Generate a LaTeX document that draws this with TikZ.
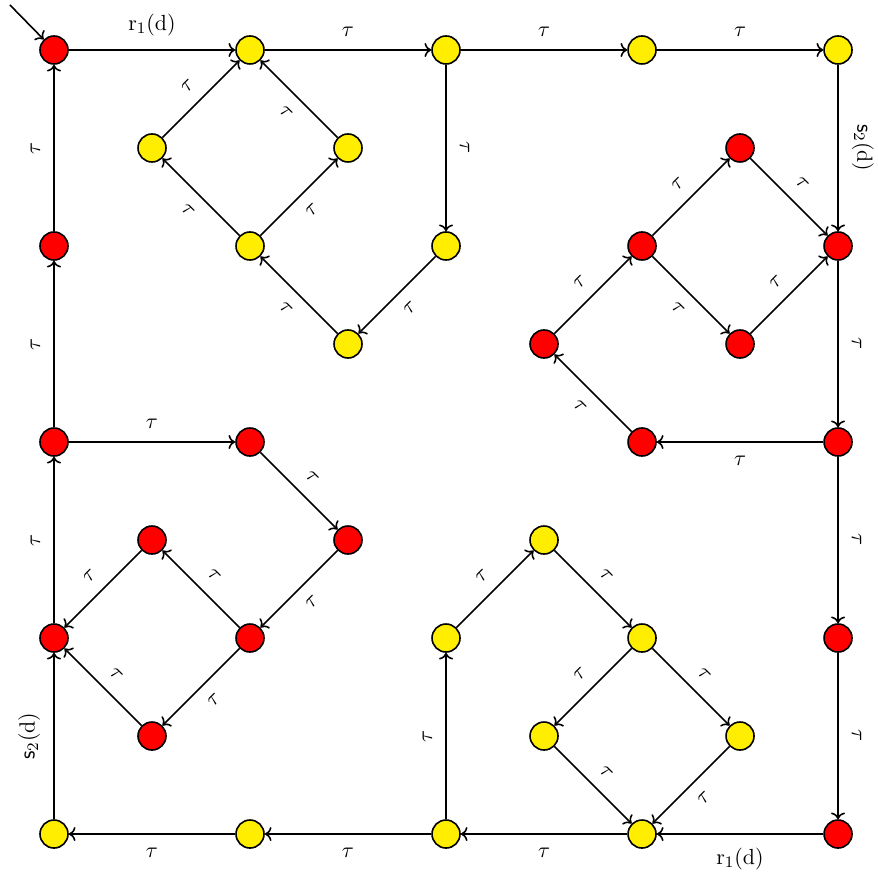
\documentclass[tikz,border=0pt]{standalone}
\usepackage{tikz}
\usetikzlibrary{arrows.meta, positioning}
\definecolor{stred}{HTML}{FF0000}
\definecolor{styel}{HTML}{FFEE00}
\tikzset{
  rst/.style={circle, draw=black, thick, fill=stred, minimum size=14pt, inner sep=0pt},
  yst/.style={circle, draw=black, thick, fill=styel, minimum size=14pt, inner sep=0pt},
  tr/.style={->, thick},
  lbl/.style={inner sep=6.5pt, font=\fontsize{11}{13}\selectfont},
  la/.style={lbl, sloped, above},
  lb/.style={lbl, sloped, below},
  lu/.style={lbl, rotate=90, anchor=south},
  ld/.style={lbl, rotate=-90, anchor=south},
}
\begin{document}
\begin{tikzpicture}[x=49pt, y=-49pt]
  \useasboundingbox (-0.551,-0.510) rectangle (8.398,8.510);
  % top row
  \node[rst] (c00) at (0,0) {};
  \node[yst] (c20) at (2,0) {};
  \node[yst] (c40) at (4,0) {};
  \node[yst] (c60) at (6,0) {};
  \node[yst] (c80) at (8,0) {};
  % top-left diamond
  \node[yst] (c11) at (1,1) {};
  \node[yst] (c31) at (3,1) {};
  \node[yst] (c22) at (2,2) {};
  \node[yst] (c42) at (4,2) {};
  \node[yst] (c33) at (3,3) {};
  % top-right diamond
  \node[rst] (c71) at (7,1) {};
  \node[rst] (c62) at (6,2) {};
  \node[rst] (c82) at (8,2) {};
  \node[rst] (c53) at (5,3) {};
  \node[rst] (c73) at (7,3) {};
  \node[rst] (c64) at (6,4) {};
  \node[rst] (c84) at (8,4) {};
  % left column
  \node[rst] (c02) at (0,2) {};
  \node[rst] (c04) at (0,4) {};
  \node[rst] (c24) at (2,4) {};
  \node[rst] (c15) at (1,5) {};
  \node[rst] (c35) at (3,5) {};
  \node[rst] (c06) at (0,6) {};
  \node[rst] (c26) at (2,6) {};
  \node[rst] (c17) at (1,7) {};
  % bottom-right diamond
  \node[yst] (c55) at (5,5) {};
  \node[yst] (c46) at (4,6) {};
  \node[yst] (c66) at (6,6) {};
  \node[rst] (c86) at (8,6) {};
  \node[yst] (c57) at (5,7) {};
  \node[yst] (c77) at (7,7) {};
  % bottom row
  \node[yst] (c08) at (0,8) {};
  \node[yst] (c28) at (2,8) {};
  \node[yst] (c48) at (4,8) {};
  \node[yst] (c68) at (6,8) {};
  \node[rst] (c88) at (8,8) {};

  \coordinate (init) at (-0.45,-0.46);
  \draw[tr] (init) -- (c00);

  % outer cycle
  \draw[tr] (c00) -- node[la] {$\mathrm{r}_1(\mathrm{d})$} (c20);
  \draw[tr] (c20) -- node[la] {$\tau$} (c40);
  \draw[tr] (c40) -- node[la] {$\tau$} (c60);
  \draw[tr] (c60) -- node[la] {$\tau$} (c80);
  \draw[tr] (c80) -- node[ld] {$\mathsf{s}_2(\mathrm{d})$} (c82);
  \draw[tr] (c82) -- node[ld] {$\tau$} (c84);
  \draw[tr] (c84) -- node[ld] {$\tau$} (c86);
  \draw[tr] (c86) -- node[ld] {$\tau$} (c88);
  \draw[tr] (c88) -- node[lb] {$\mathrm{r}_1(\mathrm{d})$} (c68);
  \draw[tr] (c68) -- node[lb] {$\tau$} (c48);
  \draw[tr] (c48) -- node[lb] {$\tau$} (c28);
  \draw[tr] (c28) -- node[lb] {$\tau$} (c08);
  \draw[tr] (c08) -- node[lu] {$\mathsf{s}_2(\mathrm{d})$} (c06);
  \draw[tr] (c06) -- node[lu] {$\tau$} (c04);
  \draw[tr] (c04) -- node[lu] {$\tau$} (c02);
  \draw[tr] (c02) -- node[lu] {$\tau$} (c00);

  % top-left part
  \draw[tr] (c40) -- node[ld] {$\tau$} (c42);
  \draw[tr] (c42) -- node[lb] {$\tau$} (c33);
  \draw[tr] (c33) -- node[lb] {$\tau$} (c22);
  \draw[tr] (c22) -- node[lb] {$\tau$} (c11);
  \draw[tr] (c11) -- node[la] {$\tau$} (c20);
  \draw[tr] (c22) -- node[lb] {$\tau$} (c31);
  \draw[tr] (c31) -- node[lb] {$\tau$} (c20);

  % top-right part
  \draw[tr] (c84) -- node[lb] {$\tau$} (c64);
  \draw[tr] (c64) -- node[lb] {$\tau$} (c53);
  \draw[tr] (c53) -- node[la] {$\tau$} (c62);
  \draw[tr] (c62) -- node[la] {$\tau$} (c71);
  \draw[tr] (c71) -- node[la] {$\tau$} (c82);
  \draw[tr] (c62) -- node[lb] {$\tau$} (c73);
  \draw[tr] (c73) -- node[la] {$\tau$} (c82);

  % bottom-left part
  \draw[tr] (c04) -- node[la] {$\tau$} (c24);
  \draw[tr] (c24) -- node[la] {$\tau$} (c35);
  \draw[tr] (c35) -- node[lb] {$\tau$} (c26);
  \draw[tr] (c26) -- node[la] {$\tau$} (c15);
  \draw[tr] (c15) -- node[la] {$\tau$} (c06);
  \draw[tr] (c26) -- node[lb] {$\tau$} (c17);
  \draw[tr] (c17) -- node[la] {$\tau$} (c06);

  % bottom-right part
  \draw[tr] (c48) -- node[lu] {$\tau$} (c46);
  \draw[tr] (c46) -- node[la] {$\tau$} (c55);
  \draw[tr] (c55) -- node[la] {$\tau$} (c66);
  \draw[tr] (c66) -- node[la] {$\tau$} (c57);
  \draw[tr] (c57) -- node[la] {$\tau$} (c68);
  \draw[tr] (c66) -- node[la] {$\tau$} (c77);
  \draw[tr] (c77) -- node[lb] {$\tau$} (c68);
\end{tikzpicture}
\end{document}
